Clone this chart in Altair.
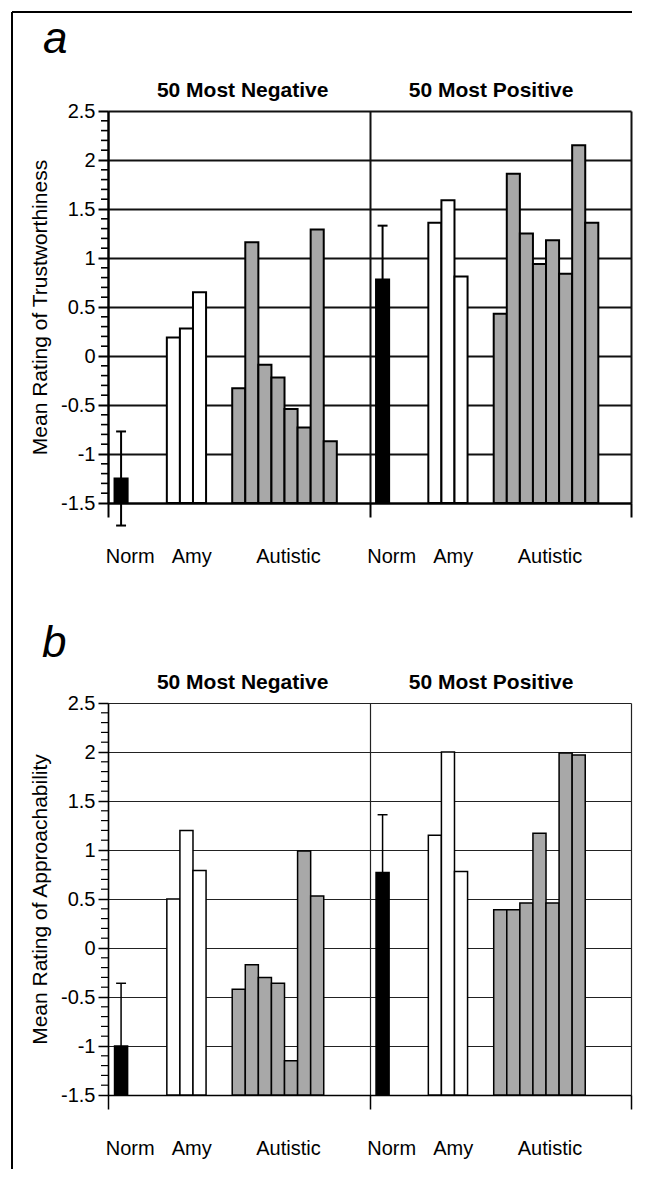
import altair as alt
import pandas as pd

FONT = "Liberation Sans"

# ---------------- data ----------------
HALVES = ["50 Most Negative", "50 Most Positive"]
GROUPS = ["Norm", "Amy", "Autistic"]
Y_TICKS = [-1.5, -1, -0.5, 0, 0.5, 1, 1.5, 2, 2.5]

# panel a: trustworthiness
trust_norm = [-1.25, 0.78]
trust_norm_err = [0.48, 0.55]
trust_amy_neg = [0.19, 0.28, 0.65]
trust_amy_pos = [1.36, 1.59, 0.81]
trust_aut_neg = [-0.33, 1.16, -0.09, -0.22, -0.54, -0.73, 1.29, -0.87]
trust_aut_pos = [0.43, 1.86, 1.25, 0.94, 1.18, 0.84, 2.15, 1.36]

# panel b: approachability
appr_norm = [-1.00, 0.77]
appr_norm_err = [0.64, 0.59]
appr_amy_neg = [0.50, 1.20, 0.79]
appr_amy_pos = [1.15, 2.00, 0.78]
appr_aut_neg = [-0.42, -0.17, -0.30, -0.36, -1.15, 0.99, 0.53]
appr_aut_pos = [0.39, 0.39, 0.46, 1.17, 0.46, 1.99, 1.97]

# ---------------- layout constants ----------------
SLOTS = 20                      # slots per half
GROUP_START = {"Norm": 0.5, "Amy": 4.5, "Autistic": 9.5}
LABEL_POS = {"Norm": 1.7, "Amy": 6.4, "Autistic": 13.8}
TITLE_POS = [10.3, 29.3]
BASE = -1.5
CAP = 0.38
W, H = 523, 392
COLORS = ["#000000", "#ffffff", "#a8a8a8"]


def bar_frame(norm, amy_neg, amy_pos, aut_neg, aut_pos):
    rows = []
    sets = [(norm[0], amy_neg, aut_neg), (norm[1], amy_pos, aut_pos)]
    for h, (n, amy, aut) in enumerate(sets):
        for g, vals in (("Norm", [n]), ("Amy", amy), ("Autistic", aut)):
            for i, v in enumerate(vals):
                x0 = h * SLOTS + GROUP_START[g] + i
                rows.append(dict(half=HALVES[h], group=g, idx=i, value=v,
                                 x0=x0, x1=x0 + 1, base=BASE))
    return pd.DataFrame(rows)


def err_frames(norm, err):
    rules, caps = [], []
    for h in range(2):
        c = h * SLOTS + GROUP_START["Norm"] + 0.5
        lo, hi = norm[h] - err[h], norm[h] + err[h]
        rules.append(dict(c=c, lo=lo, hi=hi))
        for y in (lo, hi):
            caps.append(dict(c0=c - CAP, c1=c + CAP, y=y))
    return pd.DataFrame(rules), pd.DataFrame(caps)


def panel(letter, letter_xy, ytitle, bars, err, lw, grid_w, grid_col, clip_err, frame):
    xs = alt.Scale(domain=[0, 2 * SLOTS], nice=False, zero=False)
    ys = alt.Scale(domain=[-1.5, 2.5], nice=False, zero=False)
    xaxis = alt.Axis(
        values=[0, 20, 40], labels=False, title=None, tickSize=14,
        tickWidth=lw, tickColor="black", grid=True, gridColor=grid_col,
        gridWidth=grid_w, gridOpacity=1, domainColor="black", domainWidth=lw)
    yaxis = alt.Axis(
        values=Y_TICKS, labelExpr="'' + datum.value", title=ytitle,
        tickSize=10, tickWidth=lw, tickColor="black", grid=True,
        gridColor=grid_col, gridWidth=grid_w, gridOpacity=1,
        domainColor="black", domainWidth=lw, labelFont=FONT,
        labelFontSize=20, labelColor="black", labelPadding=3,
        titleFont=FONT, titleFontSize=21, titleFontWeight="normal",
        titleColor="black", titlePadding=10)

    base_bars = alt.Chart(bars).mark_rect(stroke="black", strokeWidth=lw).encode(
        x=alt.X("x0:Q", scale=xs, axis=xaxis),
        x2="x1:Q",
        y=alt.Y("value:Q", scale=ys, axis=yaxis),
        y2="base:Q",
        fill=alt.Fill("group:N", scale=alt.Scale(domain=GROUPS, range=COLORS),
                      legend=None),
    )

    rule_df, cap_df = err
    err_rule = alt.Chart(rule_df).mark_rule(color="black", strokeWidth=lw,
                                            clip=clip_err).encode(
        x=alt.X("c:Q", scale=xs, axis=xaxis),
        y=alt.Y("lo:Q", scale=ys, axis=yaxis), y2="hi:Q")
    err_cap = alt.Chart(cap_df).mark_rule(color="black", strokeWidth=lw,
                                          clip=clip_err).encode(
        x=alt.X("c0:Q", scale=xs, axis=xaxis), x2="c1:Q",
        y=alt.Y("y:Q", scale=ys, axis=yaxis))

    minor_vals = [round(-1.5 + 0.1 * k, 1) for k in range(41) if k % 5 != 0]
    minor = alt.Chart(pd.DataFrame({"v": minor_vals})).mark_rule(
        color="black", strokeWidth=lw * 0.8).encode(
        x=alt.value(-7), x2=alt.value(0),
        y=alt.Y("v:Q", scale=ys, axis=yaxis))

    lab_df = pd.DataFrame([dict(pos=h * SLOTS + LABEL_POS[g], text=g)
                           for h in range(2) for g in GROUPS])
    labels = alt.Chart(lab_df).mark_text(
        font=FONT, fontSize=20, color="black", baseline="alphabetic",
        align="center").encode(
        x=alt.X("pos:Q", scale=xs, axis=xaxis), y=alt.value(H + 60), text="text:N")

    tit_df = pd.DataFrame({"pos": TITLE_POS, "text": HALVES})
    titles = alt.Chart(tit_df).mark_text(
        font=FONT, fontSize=21, fontWeight="bold", color="black",
        baseline="alphabetic", align="center").encode(
        x=alt.X("pos:Q", scale=xs, axis=xaxis), y=alt.value(-14), text="text:N")

    one = pd.DataFrame({"k": [0]})
    let = alt.Chart(one).mark_text(
        text=letter, font=FONT, fontSize=44, fontStyle="italic", color="black",
        align="left", baseline="alphabetic").encode(
        x=alt.value(letter_xy[0]), y=alt.value(letter_xy[1]))

    layers = [base_bars, err_rule, err_cap, minor, labels, titles, let]
    if frame:
        fv = alt.Chart(one).mark_rule(color="black", strokeWidth=2).encode(
            x=alt.value(-96), y=alt.value(-99), y2=alt.value(1058))
        fh = alt.Chart(one).mark_rule(color="black", strokeWidth=2).encode(
            x=alt.value(-96), x2=alt.value(524), y=alt.value(-99))
        layers += [fv, fh]
    return alt.layer(*layers).properties(width=W, height=H)


panel_a = panel("a", (-65, -58), "Mean Rating of Trustworthiness",
                bar_frame(trust_norm, trust_amy_neg, trust_amy_pos,
                          trust_aut_neg, trust_aut_pos),
                err_frames(trust_norm, trust_norm_err),
                lw=2, grid_w=2, grid_col="#111111", clip_err=False, frame=True)

panel_b = panel("b", (-66, -46), "Mean Rating of Approachability",
                bar_frame(appr_norm, appr_amy_neg, appr_amy_pos,
                          appr_aut_neg, appr_aut_pos),
                err_frames(appr_norm, appr_norm_err),
                lw=1.5, grid_w=1.2, grid_col="#222222", clip_err=True, frame=False)

chart = alt.vconcat(panel_a, panel_b, spacing=200, bounds="flush").properties(
    padding={"left": 3, "top": 3, "right": 0, "bottom": 0},
    background="white",
).configure_view(strokeWidth=0)

chart.save("out.html", embed_options={"renderer": "svg", "actions": False})
